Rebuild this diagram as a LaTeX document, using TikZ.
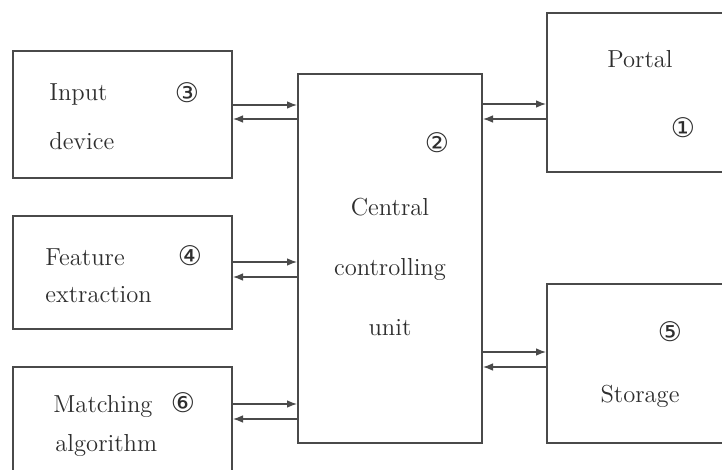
\documentclass[tikz,border=0pt]{standalone}
\usepackage{fontspec}
\newfontfamily\circfont{DejaVu Sans}
\usetikzlibrary{fit,arrows.meta}
\definecolor{linec}{HTML}{4A4A4A}
\definecolor{textc}{HTML}{2E2E2E}
\tikzset{
  box/.style={draw=linec, line width=1pt, inner sep=0pt, fill=none},
  arr/.style={draw=linec, line width=0.6pt, -{Latex[length=5pt,width=3.8pt]}},
  lbl/.style={text=textc, font=\fontsize{12.3}{14}\selectfont, inner sep=0pt},
  num/.style={text=textc, font=\circfont\fontsize{13.5}{14}\selectfont, inner sep=0pt},
}
\begin{document}
\begin{tikzpicture}[x=0.5pt,y=-0.5pt]
\useasboundingbox (0,0) rectangle (722,470);
\clip (0,0) rectangle (722,470);
% boxes
\node[box, fit={(13,51) (232,178)}] (inp) {};
\node[box, fit={(13,216) (232,329)}] (feat) {};
\node[box, fit={(13,367) (232,495)}] (match) {};
\node[box, fit={(298,74) (482,443)}] (cen) {};
\node[box, fit={(547,13) (745,172)}] (portal) {};
\node[box, fit={(547,284) (745,443)}] (stor) {};
% arrow levels
\coordinate (a1) at (0,105);
\coordinate (a2) at (0,119);
\coordinate (b1) at (0,104);
\coordinate (b2) at (0,119);
\coordinate (c1) at (0,262);
\coordinate (c2) at (0,277);
\coordinate (d1) at (0,404);
\coordinate (d2) at (0,419);
\coordinate (e1) at (0,352);
\coordinate (e2) at (0,367);
\draw[arr] (inp.east |- a1) -- (cen.west |- a1);
\draw[arr] (cen.west |- a2) -- (inp.east |- a2);
\draw[arr] (cen.east |- b1) -- (portal.west |- b1);
\draw[arr] (portal.west |- b2) -- (cen.east |- b2);
\draw[arr] (feat.east |- c1) -- (cen.west |- c1);
\draw[arr] (cen.west |- c2) -- (feat.east |- c2);
\draw[arr] (match.east |- d1) -- (cen.west |- d1);
\draw[arr] (cen.west |- d2) -- (match.east |- d2);
\draw[arr] (cen.east |- e1) -- (stor.west |- e1);
\draw[arr] (stor.west |- e2) -- (cen.east |- e2);
% labels
\node[lbl, anchor=base west] (t1) at (49,101) {Input};
\node[lbl, anchor=base west] (t2) at (49,150) {device};
\node[lbl, anchor=base west] (t3) at (45,265) {Feature};
\node[lbl, anchor=base west] (t4) at (45,302) {extraction};
\node[lbl, anchor=base west] (t5) at (53,412) {Matching};
\node[lbl, anchor=base west] (t6) at (55,451) {algorithm};
\node[lbl, anchor=base] (t7) at (390,215) {Central};
\node[lbl, anchor=base] (t8) at (390,275) {controlling};
\node[lbl, anchor=base] (t9) at (390,335) {unit};
\node[lbl, anchor=base] (t10) at (640,68) {Portal};
\node[lbl, anchor=base] (t11) at (640,402) {Storage};
% circled numbers
\node[num] (n3) at (187,93) {③};
\node[num] (n2) at (437,143) {②};
\node[num] (n1) at (683,128) {①};
\node[num] (n4) at (190,256) {④};
\node[num] (n5) at (670,332) {⑤};
\node[num] (n6) at (183,403) {⑥};
\end{tikzpicture}
\end{document}
